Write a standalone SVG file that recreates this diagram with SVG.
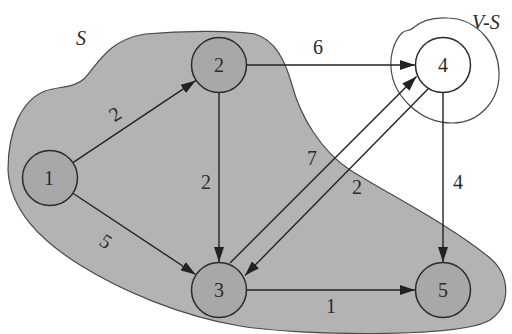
<svg xmlns="http://www.w3.org/2000/svg" width="512" height="334" viewBox="0 0 512 334">
<style>
.region{fill:#b3b3b3;stroke:#4a4a4a;stroke-width:1.2}
.vs{fill:none;stroke:#4a4a4a;stroke-width:1.2}
.node circle{stroke:#2a2a2a;stroke-width:1.5}
.s circle{fill:#a8a8a8}
.w circle{fill:#ffffff}
text{font-family:'Times New Roman','Liberation Serif',serif;font-size:20px;fill:#2a2a2a}
.nl{text-anchor:middle}
.it{font-style:italic}
.edge{stroke:#222;stroke-width:1.4;fill:none;marker-end:url(#ah)}
</style>
<defs>
<marker id="ah" markerUnits="userSpaceOnUse" markerWidth="16" markerHeight="10" refX="15" refY="5" orient="auto">
<path d="M0,0 L15,5 L0,10 z" fill="#222"/>
</marker>
</defs>
<rect width="512" height="334" fill="#ffffff"/>
<path class="region" d="M 8,170 C 8,130 22,100 45,91 C 60,86 75,88 85,78 C 100,60 110,40 145,34 C 180,31 230,30 255,34 C 275,40 285,60 292,85 C 300,115 320,150 350,170 C 390,195 450,225 490,258 C 510,275 512,305 490,320 C 460,338 300,336 240,326 C 180,316 120,290 80,265 C 40,240 10,210 8,170 Z"/>
<path class="vs" d="M 402,33 C 394,41 390,55 391,68 C 393,96 420,123 452,123 C 480,123 500,100 499,72 C 498,45 478,19 448,18 C 432,17 421,21 413,28 C 409,32 406,29 402,33 Z"/>
<text class="it" x="76" y="45">S</text>
<text class="it" x="472" y="29">V-S</text>
<g id="connectors">
<path class="edge" d="M73.3,162.4 L195.7,80.6"/>
<path class="edge" d="M73.3,193.5 L195.6,274.5"/>
<path class="edge" d="M219,93 L219,262"/>
<path class="edge" d="M247,65 L415,65"/>
<path class="edge" d="M443,93 L443,262"/>
<path class="edge" d="M247,290 L415,290"/>
<path class="edge" d="M230,263 L416.5,76.5"/>
<path class="edge" d="M428,89 L245,275.5"/>
<text x="115" y="121" class="nl" transform="rotate(-33 115 114)">2</text>
<text x="106" y="248" class="nl" transform="rotate(33 106 241)">5</text>
<text x="206" y="189" class="nl">2</text>
<text x="318" y="54" class="nl">6</text>
<text x="458" y="189" class="nl">4</text>
<text x="331" y="313" class="nl">1</text>
<text x="312" y="165" class="nl">7</text>
<text x="357" y="194" class="nl">2</text>
</g>
<g id="n1" class="node s"><circle cx="50" cy="178" r="27.5"/><text class="nl" x="49" y="185">1</text></g>
<g id="n2" class="node s"><circle cx="219" cy="65" r="27.5"/><text class="nl" x="219" y="72">2</text></g>
<g id="n3" class="node s"><circle cx="219" cy="290" r="27.5"/><text class="nl" x="219" y="297">3</text></g>
<g id="n4" class="node w"><circle cx="443" cy="65" r="27.5"/><text class="nl" x="443" y="72">4</text></g>
<g id="n5" class="node s"><circle cx="443" cy="290" r="27.5"/><text class="nl" x="443" y="297">5</text></g>
</svg>
